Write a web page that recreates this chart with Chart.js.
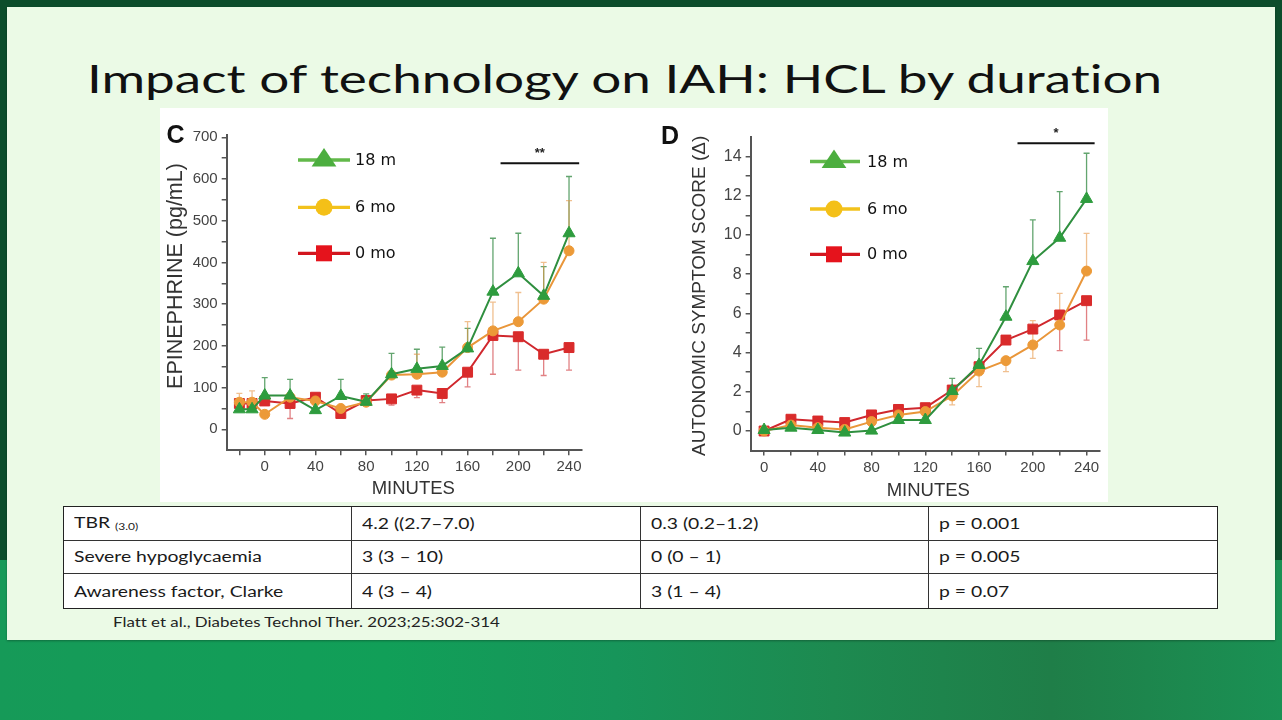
<!DOCTYPE html>
<html><head><meta charset="utf-8">
<script src="https://cdn.jsdelivr.net/npm/chart.js@4.4.1/dist/chart.umd.min.js"></script>
<style>
html,body{margin:0;padding:0;}
body{width:1282px;height:720px;position:relative;overflow:hidden;background:#0c4d2b;font-family:Lato,sans-serif;font-variant-ligatures:none;font-feature-settings:"liga" 0,"clig" 0;}
#bottom{position:absolute;left:0;top:560px;width:1282px;height:160px;
  background:linear-gradient(90deg,#169a58 0%,#119f58 30%,#17955a 48%,#1d8a50 65%,#1f7e48 82%,#1a9154 100%);}
#panel{position:absolute;left:7px;top:7px;width:1268px;height:633px;background:#ebfae6;box-shadow:0 1px 2px rgba(0,0,0,.3);}
#fig{position:absolute;left:160px;top:108px;width:948px;height:394px;background:#fff;}
canvas{position:absolute;}
.txt{position:absolute;white-space:nowrap;display:inline-block;transform-origin:0 0;}
#title{font-size:39px;color:#111;line-height:1.2;}
#cite{font-size:13px;color:#222;line-height:1.2;}
#table{position:absolute;left:63px;top:506px;width:1155px;height:103px;box-sizing:border-box;border:1.5px solid #222;background:#fff;
  display:grid;grid-template-columns:repeat(4,1fr);grid-template-rows:repeat(3,1fr);}
.cell{box-sizing:border-box;border-right:1px solid #333;border-bottom:1px solid #333;padding-left:10px;overflow:hidden;
  display:flex;align-items:center;font-size:14.5px;color:#1a1a1a;}
.cell span{display:inline-block;white-space:nowrap;transform:scaleX(1.333);transform-origin:0 50%;}
.cell sub{font-size:9px;vertical-align:-2px;}
.cell.lastc{border-right:none;}
.cell.lastr{border-bottom:none;}
</style></head>
<body>
<div id="bottom"></div>
<div id="panel"></div>
<div id="title" class="txt">Impact of technology on IAH: HCL by duration</div>
<div id="fig"></div>
<canvas id="chartC" width="440" height="394" style="left:160px;top:108px;"></canvas>
<canvas id="chartD" width="458" height="394" style="left:650px;top:108px;"></canvas>
<div id="table"></div>
<div id="cite" class="txt">Flatt et al., Diabetes Technol Ther. 2023;25:302-314</div>
<script>
// ---------------- DATA ----------------
const seriesNames = ['18 m', '6 mo', '0 mo'];

// Panel C: epinephrine (pg/mL)
const cMinutes = [-20, -10, 0, 20, 40, 60, 80, 100, 120, 140, 160, 180, 200, 220, 240];
const cEpi18m   = [48, 48, 81, 81, 46, 80, 66, 132, 145, 152, 194, 330, 374, 320, 470];
const cEpi18mHi = [null, null, 124, 120, null, 120, 85, 182, 192, 197, 242, 458, 470, 390, 606];
const cEpi6mo   = [65, 65, 36, 77, 68, 50, 65, 130, 132, 137, 196, 236, 258, 312, 428];
const cEpi6moHi = [86, 92, null, null, null, null, null, null, 180, null, 258, 305, 328, 400, 548];
const cEpi0mo   = [62, 62, 68, 62, 77, 38, 69, 73, 94, 86, 137, 225, 222, 180, 196];
const cEpi0moLo = [null, null, null, 26, null, null, null, 58, 76, 64, 102, 132, 142, 129, 142];
const cXTickMarks  = [-20, 0, 20, 40, 60, 80, 100, 120, 140, 160, 180, 200, 220, 240];
const cXTickLabels = [0, 40, 80, 120, 160, 200, 240];
const cYTickMarks  = [0, 50, 100, 150, 200, 250, 300, 350, 400, 450, 500, 550, 600, 650, 700];
const cYTickLabels = [0, 100, 200, 300, 400, 500, 600, 700];
const cSig = [186, 248, 638, '**'];   // from minute, to minute, level, label

// Panel D: autonomic symptom score (delta)
const dMinutes = [0, 20, 40, 60, 80, 100, 120, 140, 160, 180, 200, 220, 240];
const dScore18m   = [0.05, 0.17, 0.05, -0.08, 0.02, 0.56, 0.56, 2.04, 3.37, 5.83, 8.67, 9.86, 11.84];
const dScore18mHi = [null, null, null, null, null, null, null, 2.69, 4.22, 7.36, 10.77, 12.21, 14.17];
const dScore6mo   = [0, 0.3, 0.17, 0.08, 0.48, 0.82, 0.99, 1.79, 3.06, 3.59, 4.39, 5.41, 8.16];
const dScore6moHi = [null, null, null, null, null, null, null, null, null, null, 5.63, 7.02, 10.08];
const dScore6moLo = [null, null, null, null, null, null, null, 1.33, 2.26, 3.03, 3.71, null, null];
const dScore0mo   = [0, 0.6, 0.51, 0.43, 0.82, 1.1, 1.19, 2.09, 3.28, 4.64, 5.2, 5.92, 6.65];
const dScore0moLo = [null, null, null, null, null, null, null, null, null, null, null, 4.1, 4.64];
const dXTickMarks  = [0, 20, 40, 60, 80, 100, 120, 140, 160, 180, 200, 220, 240];
const dXTickLabels = [0, 40, 80, 120, 160, 200, 240];
const dYTickMarks  = [0, 1, 2, 3, 4, 5, 6, 7, 8, 9, 10, 11, 12, 13, 14];
const dYTickLabels = [0, 2, 4, 6, 8, 10, 12, 14];
const dSig = [188.6, 246, 14.68, '*'];

// Table
const tableRows = [
  ['TBR <sub>(3.0)</sub>', '4.2 ((2.7–7.0)', '0.3 (0.2–1.2)', 'p = 0.001'],
  ['Severe hypoglycaemia', '3 (3 – 10)', '0 (0 – 1)', 'p = 0.005'],
  ['Awareness factor, Clarke', '4 (3 – 4)', '3 (1 – 4)', 'p = 0.07']
];

// ---------------- STYLE ----------------
const STY = {
  green:  {line:'#2f8f3f', pt:'#2e9c3e', err:'rgba(47,135,63,0.75)', legLine:'#62b94a', legPt:'#4cae3f', shape:'triangle', r:7},
  orange: {line:'#e9963a', pt:'#ec9a38', err:'rgba(230,150,70,0.6)', legLine:'#f2c21c', legPt:'#f4c018', shape:'circle', r:5},
  red:    {line:'#d0282e', pt:'#d92b2b', err:'rgba(205,45,50,0.6)', legLine:'#d2151e', legPt:'#e5131c', shape:'rect', r:7}
};
const AX = '#555';

function ds(label, xs, ys, st, hi, lo) {
  return {
    label, data: xs.map((x, i) => ({x, y: ys[i]})),
    borderColor: st.line, backgroundColor: st.pt, pointBackgroundColor: st.pt, pointBorderColor: st.pt,
    pointStyle: st.shape, pointRadius: st.r, pointBorderWidth: 1, borderWidth: 2, tension: 0,
    errHi: hi || null, errLo: lo || null, errColor: st.err, legSty: st
  };
}

function drawMarker(ctx, shape, x, y, s, color) {
  ctx.fillStyle = color;
  ctx.beginPath();
  if (shape === 'triangle') {
    ctx.moveTo(x, y - s * 0.5); ctx.lineTo(x + s * 0.62, y + s * 0.42); ctx.lineTo(x - s * 0.62, y + s * 0.42);
    ctx.closePath();
  } else if (shape === 'circle') {
    ctx.arc(x, y, s / 2, 0, Math.PI * 2);
  } else {
    ctx.rect(x - s / 2, y - s / 2, s, s);
  }
  ctx.fill();
}

const panelPlugin = {
  id: 'panel',
  beforeDatasetsDraw(chart) {
    const ctx = chart.ctx, xs = chart.scales.x, ys = chart.scales.y;
    ctx.save();
    chart.data.datasets.forEach(d => {
      ctx.strokeStyle = d.errColor; ctx.lineWidth = 1.3;
      [d.errHi, d.errLo].forEach(arr => {
        if (!arr) return;
        arr.forEach((v, i) => {
          if (v === null) return;
          const px = xs.getPixelForValue(d.data[i].x);
          const p0 = ys.getPixelForValue(d.data[i].y), p1 = ys.getPixelForValue(v);
          ctx.beginPath(); ctx.moveTo(px, p0); ctx.lineTo(px, p1);
          ctx.moveTo(px - 3, p1); ctx.lineTo(px + 3, p1); ctx.stroke();
        });
      });
    });
    ctx.restore();
  },
  afterDraw(chart, args, o) {
    const ctx = chart.ctx, xs = chart.scales.x, ys = chart.scales.y;
    ctx.save();
    ctx.fillStyle = '#111'; ctx.textAlign = 'center'; ctx.textBaseline = 'middle';
    ctx.font = 'bold 25px "Liberation Sans", Arial, sans-serif';
    ctx.fillText(o.letter, o.letterPos[0], o.letterPos[1]);
    ctx.fillStyle = '#333';
    ctx.font = o.yTitleSize + 'px "Liberation Sans", Arial, sans-serif';
    ctx.save(); ctx.translate(o.yTitlePos[0], o.yTitlePos[1]); ctx.rotate(-Math.PI / 2);
    ctx.fillText(o.yTitle, 0, 0); ctx.restore();
    ctx.font = '18.5px "Liberation Sans", Arial, sans-serif';
    ctx.fillText(o.xTitle, o.xTitlePos[0], o.xTitlePos[1]);
    const s = o.sig;
    const x0 = xs.getPixelForValue(s[0]), x1 = xs.getPixelForValue(s[1]), yy = ys.getPixelForValue(s[2]);
    ctx.strokeStyle = '#111'; ctx.lineWidth = 2;
    ctx.beginPath(); ctx.moveTo(x0, yy); ctx.lineTo(x1, yy); ctx.stroke();
    ctx.fillStyle = '#222'; ctx.font = 'bold 13px "Liberation Sans", Arial, sans-serif';
    ctx.fillText(s[3], (x0 + x1) / 2, yy - 10);
    const L = o.legend;
    chart.data.datasets.forEach((d, i) => {
      const y = L.ys[i], st = d.legSty;
      ctx.strokeStyle = st.legLine; ctx.lineWidth = 3.3;
      ctx.beginPath(); ctx.moveTo(L.x0, y); ctx.lineTo(L.x1, y); ctx.stroke();
      const size = st.shape === 'triangle' ? 20 : (st.shape === 'circle' ? 17 : 16);
      drawMarker(ctx, st.shape, L.mx, st.shape === 'triangle' ? y - 2 : y, size, st.legPt);
      ctx.fillStyle = '#111'; ctx.textAlign = 'left'; ctx.textBaseline = 'middle';
      ctx.font = '16px "DejaVu Sans", Verdana, sans-serif';
      ctx.fillText(d.label, L.tx, y + 1);
      ctx.textAlign = 'center';
    });
    ctx.restore();
  }
};

function makeChart(id, cfg) {
  const tickFont = {family: '"Liberation Sans", Arial, sans-serif', size: 15};
  return new Chart(document.getElementById(id), {
    type: 'line',
    data: {datasets: cfg.datasets},
    options: {
      responsive: false, animation: false, events: [],
      layout: {padding: {left: 0, top: cfg.padTop, right: cfg.padRight, bottom: 0}},
      plugins: {legend: {display: false}, tooltip: {enabled: false}, panel: cfg.panel},
      scales: {
        x: {
          type: 'linear', min: cfg.xMin, max: cfg.xMax,
          afterBuildTicks: s => { s.ticks = cfg.xMarks.map(v => ({value: v})); },
          afterFit: s => { s.height = cfg.xAxisH; },
          ticks: {font: tickFont, color: '#444', padding: 3, maxRotation: 0, autoSkip: false,
                  callback: v => cfg.xLabels.includes(v) ? String(v) : ''},
          grid: {drawOnChartArea: false, drawTicks: true, tickLength: 5, color: AX, lineWidth: 1.5},
          border: {display: true, color: AX, width: 2}
        },
        y: {
          type: 'linear', min: cfg.yMin, max: cfg.yMax,
          afterBuildTicks: s => { s.ticks = cfg.yMarks.map(v => ({value: v})); },
          afterFit: s => { s.width = cfg.yAxisW; },
          ticks: {font: {family: tickFont.family, size: cfg.yTickSize}, color: '#444', padding: 4, autoSkip: false,
                  callback: v => cfg.yLabels.includes(v) ? String(v) : ''},
          grid: {drawOnChartArea: false, drawTicks: true, tickLength: 5, color: AX, lineWidth: 1.5},
          border: {display: true, color: AX, width: 2}
        }
      }
    },
    plugins: [panelPlugin]
  });
}

makeChart('chartC', {
  datasets: [
    ds(seriesNames[0], cMinutes, cEpi18m, STY.green, cEpi18mHi, null),
    ds(seriesNames[1], cMinutes, cEpi6mo, STY.orange, cEpi6moHi, null),
    ds(seriesNames[2], cMinutes, cEpi0mo, STY.red, null, cEpi0moLo)
  ],
  xMin: -30, xMax: 250, yMin: -50, yMax: 706,
  xMarks: cXTickMarks, xLabels: cXTickLabels, yMarks: cYTickMarks, yLabels: cYTickLabels,
  padTop: 26.8, padRight: 18.3, xAxisH: 51.8, yAxisW: 66.7, yTickSize: 15,
  panel: {
    letter: 'C', letterPos: [15.5, 28],
    yTitle: 'EPINEPHRINE (pg/mL)', yTitlePos: [16.5, 168], yTitleSize: 21.5,
    xTitle: 'MINUTES', xTitlePos: [253.3, 380.5],
    sig: cSig,
    legend: {x0: 138, x1: 190, mx: 164, tx: 195, ys: [52, 99.3, 145.3]}
  }
});

makeChart('chartD', {
  datasets: [
    ds(seriesNames[0], dMinutes, dScore18m, STY.green, dScore18mHi, null),
    ds(seriesNames[1], dMinutes, dScore6mo, STY.orange, dScore6moHi, dScore6moLo),
    ds(seriesNames[2], dMinutes, dScore0mo, STY.red, null, dScore0moLo)
  ],
  xMin: -10, xMax: 250, yMin: -1, yMax: 15,
  xMarks: dXTickMarks, xLabels: dXTickLabels, yMarks: dYTickMarks, yLabels: dYTickLabels,
  padTop: 29, padRight: 2.4, xAxisH: 51.4, yAxisW: 100.65, yTickSize: 16,
  panel: {
    letter: 'D', letterPos: [20, 29.5],
    yTitle: 'AUTONOMIC SYMPTOM SCORE (Δ)', yTitlePos: [50, 187.8], yTitleSize: 19,
    xTitle: 'MINUTES', xTitlePos: [278.3, 382.8],
    sig: dSig,
    legend: {x0: 160, x1: 210, mx: 184, tx: 217, ys: [53.5, 101, 146.3]}
  }
});

// ---------------- TABLE ----------------
const tbl = document.getElementById('table');
tableRows.forEach((row, r) => {
  row.forEach((txt, c) => {
    const cell = document.createElement('div');
    cell.className = 'cell' + (c === row.length - 1 ? ' lastc' : '') + (r === tableRows.length - 1 ? ' lastr' : '');
    cell.innerHTML = '<span>' + txt + '</span>';
    tbl.appendChild(cell);
  });
});

// ---------------- TEXT PLACEMENT ----------------
function placeText(id, left, baseline, width) {
  const el = document.getElementById(id);
  el.style.left = left + 'px'; el.style.top = '0px';
  const m = document.createElement('span');
  m.style.cssText = 'display:inline-block;width:0;height:0;vertical-align:baseline;';
  el.appendChild(m);
  const base = m.offsetTop;
  el.style.top = (baseline - base) + 'px';
  const w = el.offsetWidth;
  el.style.transform = 'scaleX(' + (width / w) + ')';
}
placeText('title', 87, 93.3, 1075);
placeText('cite', 113, 626.7, 387);
</script>
</body></html>
